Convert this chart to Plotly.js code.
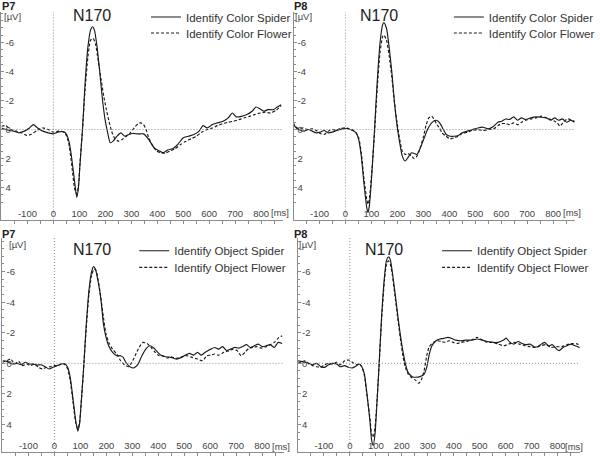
<!DOCTYPE html>
<html><head><meta charset="utf-8">
<script src="https://cdn.plot.ly/plotly-3.0.1.min.js"></script>
<style>html,body{margin:0;padding:0;background:#fff}#chart{width:600px;height:456px}</style>
</head><body><div id="chart"></div>
<script>
// ---------- DATA (time in ms, amplitude in µV) ----------
const p7ColorSpiderT = [-200,-173,-153,-133,-112,-92,-77,-61,-41,-20,0,20,41,51,61,71,82,90,97,102,112,122,133,143,151,158,168,179,189,199,209,219,230,245,260,275,291,306,326,347,367,388,408,423,439,459,479,500,520,541,561,576,592,612,632,653,673,689,704,724,745,765,780,796,811,826,847,862,877];
const p7ColorSpiderV = [-0.11,0.05,0.11,0.23,0.11,-0.11,-0.34,-0.11,0.11,0.23,0.3,0.16,0.16,0.34,0.91,2.05,3.65,4.68,3.88,2.51,0,-3.2,-5.71,-6.85,-7.08,-6.85,-5.71,-3.88,-2.05,-0.68,0.23,0.91,0.8,0.46,0.23,0.46,0.34,0.27,0.3,0.3,0.68,1.26,1.48,1.6,1.42,1.32,1.03,0.57,0.46,0.34,0.11,-0.27,-0.11,-0.34,-0.46,-0.57,-0.8,-1.14,-0.87,-0.91,-1.03,-1.26,-1.55,-1.42,-1.26,-1.37,-1.37,-1.55,-1.71];
const p7ColorFlowerT = [-200,-184,-163,-143,-122,-102,-87,-61,-41,-20,0,20,41,51,61,71,82,90,97,102,112,122,133,143,153,163,173,184,194,204,214,224,235,250,265,281,296,311,326,337,347,357,367,383,398,413,428,449,469,490,510,530,551,571,592,612,632,653,673,694,714,734,755,775,796,816,836,857,877];
const p7ColorFlowerV = [-0.23,-0.27,0,0.11,0.23,0.41,0.34,0.05,-0.11,0,0.18,0.11,0.18,0.46,1.14,2.51,4.11,4.45,3.77,2.4,0,-2.74,-5.02,-6.16,-6.28,-5.82,-4.68,-3.42,-2.28,-1.37,-0.57,0.11,0.57,0.8,0.68,0.46,0.23,-0.11,-0.41,-0.46,-0.34,0,0.57,1.14,1.48,1.6,1.64,1.48,1.32,1.03,0.8,0.64,0.46,0.18,0,-0.11,-0.27,-0.41,-0.5,-0.57,-0.68,-0.8,-0.91,-1.03,-1.14,-1.19,-1.14,-1.32,-1.64];

const p8ColorSpiderT = [-200,-189,-173,-158,-143,-128,-112,-97,-82,-66,-51,-31,-10,0,10,26,41,51,61,71,82,87,92,102,112,122,133,143,148,158,168,179,189,199,209,219,230,240,255,265,275,286,301,316,332,347,357,367,377,388,403,418,434,449,469,490,510,530,551,571,587,602,617,632,648,663,678,694,714,734,755,775,791,806,821,836,852,867,882];
const p8ColorSpiderV = [-0.34,-0.11,0.05,0.11,0,0.11,0.23,0.18,0.07,0.23,0.18,0.05,-0.05,-0.07,-0.05,0.05,0.23,0.69,1.83,3.66,5.38,5.72,5.26,2.97,0,-3.2,-5.95,-7.21,-7.37,-6.98,-5.72,-3.89,-1.83,-0.23,0.92,1.83,2.17,1.95,1.6,1.65,1.72,1.37,0.69,0,-0.46,-0.64,-0.57,-0.34,0,0.34,0.46,0.46,0.41,0.23,0.11,0,-0.11,-0.16,-0.05,-0.23,-0.5,-0.57,-0.73,-0.69,-0.87,-0.64,-0.8,-0.69,-0.8,-0.87,-0.85,-0.8,-0.64,-0.8,-0.64,-0.73,-0.5,-0.64,-0.5];
const p8ColorFlowerT = [-200,-194,-179,-163,-148,-128,-112,-97,-82,-66,-51,-36,-20,0,15,31,41,51,61,71,82,87,92,102,112,122,133,143,148,158,168,179,189,199,209,219,230,240,255,265,275,286,301,311,321,332,342,352,362,372,388,403,418,434,449,469,490,510,530,551,571,587,602,617,632,648,663,678,694,714,734,755,775,791,806,816,826,842,857,872,882];
const p8ColorFlowerV = [-0.46,-0.23,-0.05,-0.11,0,-0.05,0.07,0.27,0.34,0.11,0,0.05,-0.07,-0.11,-0.05,0.07,0.23,0.57,1.6,3.32,4.81,5.15,4.81,2.75,0.23,-2.75,-5.26,-6.41,-6.52,-6.18,-5.15,-3.55,-1.83,-0.46,0.69,1.49,1.72,1.65,1.83,2.0,1.83,1.37,0.46,-0.34,-0.8,-0.92,-0.69,-0.34,-0.11,0.23,0.46,0.64,0.57,0.46,0.27,0.18,0.05,0,0.07,0,-0.05,-0.27,-0.41,-0.41,-0.34,-0.46,-0.34,-0.5,-0.64,-0.73,-0.8,-0.92,-0.8,-0.69,-0.57,-0.46,-0.23,-0.57,-0.73,-0.64,-0.57];

const p7ObjectSpiderT = [-200,-184,-163,-143,-128,-112,-97,-82,-66,-51,-36,-20,-5,10,26,41,51,61,71,82,90,97,102,112,122,133,143,151,158,168,179,189,199,209,224,240,255,265,275,291,306,321,337,352,367,383,398,413,428,449,469,490,505,520,536,551,566,581,602,617,632,648,663,678,694,709,724,740,755,770,785,801,816,831,847,862,877];
const p7ObjectSpiderV = [-0.17,-0.13,0.04,0,0.09,-0.07,0.04,0.04,0.11,0.09,0.22,0.37,0.26,0.15,0.04,0.04,0.26,0.91,2.22,3.74,4.43,3.96,2.87,0.48,-2.35,-4.74,-5.96,-6.33,-6.17,-5.39,-4.2,-2.57,-1.7,-1.15,-0.72,-0.5,-0.5,-0.39,-0.07,0.22,0.3,0.09,-0.5,-0.93,-1.15,-1.0,-0.72,-0.5,-0.43,-0.39,-0.28,-0.39,-0.54,-0.65,-0.54,-0.72,-0.54,-0.72,-0.93,-1.04,-0.93,-1.09,-0.83,-0.93,-1.04,-1.0,-1.09,-1.22,-1.04,-1.15,-1.26,-1.09,-1.15,-1.22,-1.04,-1.37,-1.3];
const p7ObjectFlowerT = [-200,-184,-168,-153,-138,-122,-107,-92,-77,-61,-46,-31,-15,0,15,31,41,51,61,71,82,90,97,102,112,122,133,143,153,161,168,179,189,199,209,224,240,255,270,286,296,311,326,342,357,372,388,403,418,434,449,469,490,510,530,551,571,587,602,617,632,653,673,689,704,719,734,750,765,780,796,816,831,847,862,877];
const p7ObjectFlowerV = [-0.07,-0.17,-0.28,0.04,-0.13,0.15,0.04,0.15,0.04,0.26,0.37,0.26,0.22,0.15,0.15,0,0.09,0.37,1.13,2.43,3.87,4.3,3.87,2.87,0.48,-2.13,-4.52,-5.72,-6.17,-6.06,-5.5,-4.3,-3.0,-1.91,-1.37,-0.93,-0.61,-0.17,0.09,0.22,0,-0.5,-1.04,-1.37,-1.3,-1.04,-0.72,-0.5,-0.5,-0.35,-0.43,-0.33,-0.43,-0.5,-0.39,-0.28,-0.17,-0.5,-0.54,-0.61,-0.54,-0.72,-0.83,-0.93,-0.83,-0.5,-0.72,-1.0,-1.04,-1.09,-1.0,-1.09,-1.22,-1.37,-1.65,-1.8];

const p8ObjectSpiderT = [-200,-189,-173,-158,-143,-128,-112,-97,-82,-66,-51,-36,-20,-5,10,26,36,46,56,66,77,84,90,97,102,112,122,133,141,148,155,163,173,184,194,204,214,224,240,255,270,286,296,306,316,332,347,362,377,393,408,428,449,469,490,510,530,551,571,592,602,617,632,648,663,678,694,709,724,734,750,765,780,796,806,821,836,852,867,884];
const p8ObjectSpiderV = [-0.17,-0.13,-0.07,0,0.09,0,0.22,0.26,0.09,0,0.04,0.22,0.15,0.26,0.3,0.15,0.04,0.22,0.7,2.0,3.74,5.04,5.37,4.61,3.3,0.26,-3.0,-5.61,-6.74,-6.96,-6.83,-6.04,-4.74,-3.22,-1.91,-0.83,0.04,0.59,0.87,0.91,0.87,0.7,0.26,-0.61,-1.15,-1.48,-1.59,-1.63,-1.7,-1.63,-1.52,-1.48,-1.52,-1.52,-1.59,-1.52,-1.43,-1.37,-1.37,-1.52,-1.65,-1.37,-1.26,-1.43,-1.3,-1.22,-1.26,-1.09,-1.09,-1.22,-1.37,-1.15,-1.22,-0.93,-0.83,-1.04,-1.15,-1.26,-1.15,-1.04];
const p8ObjectFlowerT = [-200,-189,-173,-158,-143,-128,-112,-97,-82,-66,-51,-36,-20,-5,10,26,36,46,56,66,77,84,90,97,102,112,122,133,141,148,155,163,173,184,194,204,214,224,240,255,265,275,286,296,306,321,337,352,367,383,398,413,428,449,469,490,510,530,551,571,592,612,632,653,673,694,714,734,755,775,796,816,836,857,877,884];
const p8ObjectFlowerV = [0,-0.07,-0.17,0.04,0.15,0.22,0.26,0.09,0,0.04,-0.07,0.09,-0.17,-0.22,-0.07,0.09,0.04,0.22,0.8,2.11,3.52,4.61,4.83,4.17,3.09,0.37,-2.78,-5.39,-6.48,-6.7,-6.52,-5.83,-4.52,-3.0,-1.7,-0.5,0.26,0.7,0.96,1.13,1.3,1.09,0.48,-0.5,-1.09,-1.37,-1.48,-1.43,-1.37,-1.48,-1.37,-1.3,-1.37,-1.43,-1.52,-1.7,-1.52,-1.37,-1.37,-1.26,-1.15,-1.26,-1.37,-1.26,-1.15,-1.09,-1.04,-1.15,-1.22,-1.04,-1.09,-1.09,-1.22,-1.3,-1.26,-1.0];

const colorLabels = ['Identify Color Spider', 'Identify Color Flower'];
const objectLabels = ['Identify Object Spider', 'Identify Object Flower'];
const channelLabels = ['P7', 'P8', 'P7', 'P8'];
const xTickVals = [-100,0,100,200,300,400,500,600,700,800];
const xTickText = ['-100','0','100','200','300','400','500','600','700','800'];
const yTickVals = [-6,-4,-2,0,2,4];
const yTickText = ['-6','-4','-2','0','2','4'];

// ---------- LAYOUT ----------
const W = 600, H = 456;
const fx = p => p / W;
const fy = p => 1 - p / H;
const FONT = 'Arial, "Liberation Sans", Helvetica, sans-serif';
const AX = '#8c8c8c';
const LINE = '#1a1a1a';
const XR = [-200, 885];

const panels = [
  {x:'x',  y:'y',  xd:[1.5,289], yd:[12,219.5], yr:[6.2,-8.1],
   sT:p7ColorSpiderT, sV:p7ColorSpiderV, fT:p7ColorFlowerT, fV:p7ColorFlowerV, labels:colorLabels,
   chan:[0,6], uv:[12.5,17], ms:[285.5,212], n170:[94,15], leg:[149,17,33]},
  {x:'x2', y:'y2', xd:[299.5,587], yd:[12,219.5], yr:[6.2,-8.1],
   sT:p8ColorSpiderT, sV:p8ColorSpiderV, fT:p8ColorFlowerT, fV:p8ColorFlowerV, labels:colorLabels,
   chan:[298,6], uv:[310,17], ms:[583.5,212], n170:[387,15], leg:[458,17,33]},
  {x:'x3', y:'y3', xd:[2.5,290], yd:[238,452], yr:[5.8,-8.2],
   sT:p7ObjectSpiderT, sV:p7ObjectSpiderV, fT:p7ObjectFlowerT, fV:p7ObjectFlowerV, labels:objectLabels,
   chan:[0,234.5], uv:[17.5,244], ms:[286.5,446], n170:[94,249], leg:[137,250.7,267.3]},
  {x:'x4', y:'y4', xd:[304,591.5], yd:[238,452], yr:[5.8,-8.2],
   sT:p8ObjectSpiderT, sV:p8ObjectSpiderV, fT:p8ObjectFlowerT, fV:p8ObjectFlowerV, labels:objectLabels,
   chan:[298,234.5], uv:[314,244.5], ms:[585.5,446], n170:[392,249], leg:[446,250.7,267.3]}
];

const data = [];
const layout = {
  width: W, height: H,
  margin: {l:0, r:0, t:0, b:0, pad:0},
  paper_bgcolor: '#ffffff', plot_bgcolor: 'rgba(0,0,0,0)',
  font: {family: FONT, color: '#333'},
  showlegend: true,
  hovermode: false,
  shapes: [], annotations: []
};

panels.forEach((p, i) => {
  const n = i + 1;
  const xKey = n === 1 ? 'xaxis' : 'xaxis' + n;
  const yKey = n === 1 ? 'yaxis' : 'yaxis' + n;
  const legS = i === 0 ? 'legend' : 'legend' + (2*i + 1);
  const legF = 'legend' + (2*i + 2);

  data.push({x: p.sT, y: p.sV, xaxis: p.x, yaxis: p.y, mode: 'lines', name: p.labels[0],
    legend: legS, hoverinfo: 'skip',
    line: {color: LINE, width: 1.15, shape: 'spline', smoothing: 0.6}});
  data.push({x: p.fT, y: p.fV, xaxis: p.x, yaxis: p.y, mode: 'lines', name: p.labels[1],
    legend: legF, hoverinfo: 'skip',
    line: {color: LINE, width: 1.15, dash: '3px,2px', shape: 'spline', smoothing: 0.6}});

  layout[xKey] = {
    domain: [fx(p.xd[0]), fx(p.xd[1])], range: XR, anchor: p.y,
    showline: true, linecolor: AX, linewidth: 1, showgrid: false, zeroline: false,
    ticks: 'outside', ticklen: 3, tickcolor: AX, tickwidth: 1,
    tickmode: 'array', tickvals: xTickVals, ticktext: xTickText,
    ticklabelposition: 'inside', tickfont: {family: FONT, size: 9.5, color: '#444'},
    minor: {tickmode: 'linear', tick0: 0, dtick: 50, ticks: 'outside', ticklen: 3, tickcolor: AX},
    fixedrange: true
  };
  layout[yKey] = {
    domain: [fy(p.yd[1]), fy(p.yd[0])], range: p.yr, anchor: p.x,
    showline: true, linecolor: AX, linewidth: 1, showgrid: false, zeroline: false,
    ticks: 'inside', ticklen: 3, tickcolor: AX, tickwidth: 1,
    tickmode: 'array', tickvals: yTickVals, ticktext: yTickText,
    ticklabelposition: 'inside', tickfont: {family: FONT, size: 9.5, color: '#444'},
    minor: {tickmode: 'linear', tick0: 0, dtick: 0.5, ticks: 'inside', ticklen: 2, tickcolor: AX},
    fixedrange: true
  };

  const legBase = {xanchor: 'left', yanchor: 'middle', bgcolor: 'rgba(0,0,0,0)', borderwidth: 0,
    font: {family: FONT, size: 11.5, color: '#333'}, itemwidth: 30, itemclick: false, itemdoubleclick: false};
  layout[legS] = Object.assign({}, legBase, {x: fx(p.leg[0]), y: fy(p.leg[1])});
  layout[legF] = Object.assign({}, legBase, {x: fx(p.leg[0]), y: fy(p.leg[2])});

  // dotted reference lines at 0 µV and 0 ms
  layout.shapes.push({type: 'line', xref: p.x + ' domain', x0: 0, x1: 1, yref: p.y, y0: 0, y1: 0,
    line: {color: '#8f8f8f', width: 1, dash: '1px,2px'}});
  layout.shapes.push({type: 'line', xref: p.x, x0: 0, x1: 0, yref: p.y + ' domain', y0: 0, y1: 1,
    line: {color: '#8f8f8f', width: 1, dash: '1px,2px'}});

  layout.annotations.push(
    {text: '<b>' + channelLabels[i] + '</b>', xref: 'paper', yref: 'paper', x: fx(p.chan[0]), y: fy(p.chan[1]),
     xanchor: 'left', yanchor: 'middle', showarrow: false, font: {family: FONT, size: 11, color: '#222'}},
    {text: '[µV]', xref: 'paper', yref: 'paper', x: fx(p.uv[0]), y: fy(p.uv[1]),
     xanchor: 'center', yanchor: 'middle', showarrow: false, font: {family: FONT, size: 9.5, color: '#444'}},
    {text: '[ms]', xref: 'paper', yref: 'paper', x: fx(p.ms[0]), y: fy(p.ms[1]),
     xanchor: 'center', yanchor: 'middle', showarrow: false, font: {family: FONT, size: 9.5, color: '#444'}},
    {text: 'N170', xref: 'paper', yref: 'paper', x: fx(p.n170[0]), y: fy(p.n170[1]),
     xanchor: 'center', yanchor: 'middle', showarrow: false, font: {family: FONT, size: 16, color: '#222'}}
  );
});

Plotly.newPlot('chart', data, layout, {displayModeBar: false, staticPlot: true});
</script>
</body></html>
